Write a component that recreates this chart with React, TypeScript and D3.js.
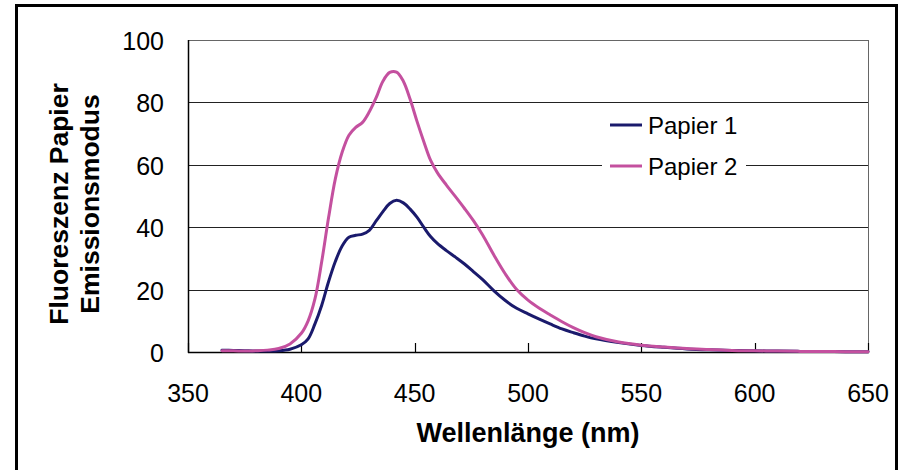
import React from "react";
import * as d3 from "d3";

const wavelengths = [365, 370, 375, 380, 385, 390, 395, 400, 403, 406, 409, 412, 415, 418, 421, 424, 427, 430, 433, 436, 439, 442, 445, 448, 451, 454, 457, 460, 464, 468, 472, 476, 480, 485, 490, 495, 500, 505, 510, 515, 520, 525, 530, 540, 550, 560, 570, 580, 590, 600, 610, 620, 630, 640, 650];

const papier1 = [0.6, 0.5, 0.4, 0.3, 0.3, 0.4, 0.9, 2.3, 4.2, 9.0, 15.0, 22.5, 29.0, 34.0, 36.8, 37.4, 37.8, 39.0, 42.0, 45.0, 47.6, 48.6, 47.8, 45.8, 43.2, 40.0, 37.0, 34.8, 32.5, 30.4, 28.2, 25.7, 23.2, 19.6, 16.5, 14.0, 12.2, 10.5, 8.9, 7.4, 6.2, 5.1, 4.2, 3.0, 2.1, 1.5, 1.0, 0.7, 0.5, 0.4, 0.3, 0.2, 0.2, 0.1, 0.1];

const papier2 = [0.4, 0.4, 0.3, 0.4, 0.6, 1.1, 2.6, 6.0, 10.0, 17.0, 29.0, 43.0, 55.5, 64.0, 69.5, 72.0, 73.6, 77.0, 81.5, 86.8, 89.6, 89.7, 86.8, 81.0, 74.0, 67.5, 61.5, 57.5, 53.5, 49.8, 46.0, 42.0, 37.5, 31.0, 25.0, 20.0, 16.6, 14.0, 11.8, 9.7, 7.8, 6.2, 4.9, 3.2, 2.2, 1.6, 1.1, 0.8, 0.5, 0.4, 0.3, 0.2, 0.2, 0.1, 0.1];

const seriesNames = ["Papier 1", "Papier 2"];
const seriesColors = ["#1a1a6c", "#c4509f"];
const xTicks = [350, 400, 450, 500, 550, 600, 650];
const yTicks = [0, 20, 40, 60, 80, 100];
const xTitle = "Wellenlänge (nm)";
const yTitle = ["Fluoreszenz Papier", "Emissionsmodus"];

const FONT = "Arial, 'Liberation Sans', sans-serif";

export default function App() {
  const left = 188, right = 868, top = 40, bottom = 352;
  const x = d3.scaleLinear().domain([350, 650]).range([left, right]);
  const y = d3.scaleLinear().domain([0, 100]).range([bottom, top]);
  const line = d3
    .line<number>()
    .x((_, i) => x(wavelengths[i]))
    .y((d) => y(d))
    .curve(d3.curveCatmullRom.alpha(0.5));
  const series = [papier1, papier2];

  return (
    <svg
      width={906}
      height={470}
      style={{ position: "absolute", left: 0, top: 0, background: "#fff" }}
      fontFamily={FONT}
    >
      <rect x={0} y={0} width={906} height={470} fill="#fff" />
      <rect x={16.5} y={5.5} width={880} height={480} fill="none" stroke="#000" strokeWidth={3} />

      {/* gridlines */}
      {yTicks.filter((t) => t > 0).map((t) => (
        <line key={t} x1={left} x2={right} y1={Math.round(y(t)) + 0.5} y2={Math.round(y(t)) + 0.5}
          stroke={t === 100 ? "#666" : "#222"} strokeWidth={1} />
      ))}
      <line x1={right + 0.5} x2={right + 0.5} y1={top} y2={bottom} stroke="#666" strokeWidth={1} />

      {/* axes */}
      <line x1={left + 0.5} x2={left + 0.5} y1={top} y2={bottom + 1} stroke="#000" strokeWidth={1.5} />
      <line x1={left} x2={right + 1} y1={bottom + 0.5} y2={bottom + 0.5} stroke="#000" strokeWidth={1.5} />
      {xTicks.map((t) => (
        <line key={t} x1={Math.round(x(t)) + 0.5} x2={Math.round(x(t)) + 0.5} y1={bottom} y2={bottom - 9}
          stroke="#000" strokeWidth={1.2} />
      ))}

      {/* tick labels */}
      {yTicks.map((t) => (
        <text key={t} x={164} y={y(t) + 10} textAnchor="end" fontSize={25} fill="#000">{t}</text>
      ))}
      {xTicks.map((t) => (
        <text key={t} x={x(t)} y={402} textAnchor="middle" fontSize={25} fill="#000">{t}</text>
      ))}

      {/* series */}
      {series.map((s, i) => (
        <path key={i} d={line(s) || ""} fill="none" stroke={seriesColors[i]} strokeWidth={3}
          strokeLinejoin="round" strokeLinecap="round" />
      ))}

      {/* legend */}
      <rect x={602} y={106} width={144} height={80} fill="#fff" />
      {seriesNames.map((n, i) => (
        <g key={n}>
          <line x1={610} x2={642} y1={125 + i * 41} y2={125 + i * 41} stroke={seriesColors[i]} strokeWidth={3} />
          <text x={648} y={134 + i * 41} fontSize={24} fill="#000">{n}</text>
        </g>
      ))}

      {/* titles */}
      <text x={(left + right) / 2} y={442} textAnchor="middle" fontSize={27} fontWeight="bold" fill="#000">{xTitle}</text>
      {yTitle.map((t, i) => (
        <text key={t} transform={`translate(${68 + i * 31},204) rotate(-90)`} textAnchor="middle"
          fontSize={26.5} fontWeight="bold" fill="#000">{t}</text>
      ))}
    </svg>
  );
}
